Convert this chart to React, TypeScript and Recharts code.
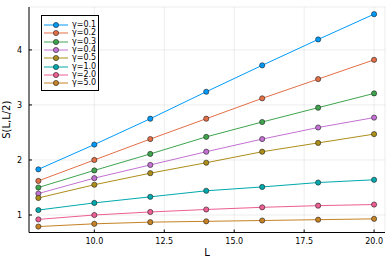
import React from 'react';
import { LineChart, Line, XAxis, YAxis, CartesianGrid } from 'recharts';

const Ls = [8, 10, 12, 14, 16, 18, 20];
const gammaLabels = ['γ=0.1', 'γ=0.2', 'γ=0.3', 'γ=0.4', 'γ=0.5', 'γ=1.0', 'γ=2.0', 'γ=5.0'];
const g01 = [1.83, 2.28, 2.75, 3.24, 3.72, 4.19, 4.65];
const g02 = [1.62, 2.0, 2.38, 2.75, 3.12, 3.47, 3.82];
const g03 = [1.5, 1.81, 2.11, 2.42, 2.69, 2.95, 3.21];
const g04 = [1.39, 1.67, 1.91, 2.15, 2.38, 2.59, 2.77];
const g05 = [1.31, 1.55, 1.76, 1.95, 2.15, 2.31, 2.47];
const g10 = [1.09, 1.22, 1.33, 1.44, 1.51, 1.59, 1.64];
const g20 = [0.92, 1.0, 1.055, 1.1, 1.14, 1.17, 1.19];
const g50 = [0.79, 0.84, 0.87, 0.885, 0.9, 0.915, 0.93];
const seriesValues = [g01, g02, g03, g04, g05, g10, g20, g50];
const colors = ['#009AFA', '#E36F47', '#3EA44E', '#C371D2', '#AC8E18', '#00A9AD', '#ED5E93', '#C68225'];
const xTicks = [10, 12.5, 15, 17.5, 20];
const yTicks = [1, 2, 3, 4];

const keys = seriesValues.map((_, i) => 's' + i);
const data = Ls.map((L, j) => {
  const row: any = { L };
  seriesValues.forEach((s, i) => { row[keys[i]] = s[j]; });
  return row;
});

const FONT = 'DejaVu Sans, sans-serif';

const XTick = (props: any) => {
  const { x, y, payload } = props;
  return (
    <g>
      <line x1={x} x2={x} y1={y} y2={y - 3} stroke="#000" strokeWidth={1} />
      <text x={x} y={y + 11} textAnchor="middle" fontSize={8} fontFamily={FONT} fill="#000">
        {Number(payload.value).toFixed(1)}
      </text>
    </g>
  );
};

const YTick = (props: any) => {
  const { x, y, payload } = props;
  return (
    <g>
      <line x1={x} x2={x + 3} y1={y} y2={y} stroke="#000" strokeWidth={1} />
      <text x={x - 7} y={y + 3} textAnchor="end" fontSize={8} fontFamily={FONT} fill="#000">
        {payload.value}
      </text>
    </g>
  );
};

const LegendBox = () => (
  <div
    style={{
      position: 'absolute',
      left: 41,
      top: 15,
      border: '1px solid #000',
      background: '#fff',
      width: 58,
      height: 76,
      padding: '5px 0 0 0',
      boxSizing: 'border-box',
    }}
  >
    {gammaLabels.map((lab, i) => (
      <div key={lab} style={{ display: 'flex', alignItems: 'center', height: 8.3 }}>
        <svg width={28} height={8} style={{ display: 'block', marginLeft: 2 }}>
          <line x1={0} x2={24} y1={4} y2={4} stroke={colors[i]} strokeWidth={1} />
          <circle cx={12} cy={4} r={2.6} fill={colors[i]} stroke="#222" strokeWidth={0.6} />
        </svg>
        <span style={{ fontSize: 8, fontFamily: FONT, lineHeight: '8px', color: '#000', whiteSpace: 'nowrap' }}>{lab}</span>
      </div>
    ))}
  </div>
);

export default function App() {
  return (
    <div style={{ position: 'absolute', left: 0, top: 0, width: 392, height: 262, background: '#fff' }}>
      <LineChart width={392} height={262} data={data} margin={{ top: 7, right: 7, bottom: 0, left: 0 }}>
        <CartesianGrid stroke="#000" strokeOpacity={0.09} strokeWidth={0.8} />
        <XAxis
          dataKey="L"
          type="number"
          domain={[7.665, 20.39]}
          ticks={xTicks}
          allowDataOverflow
          height={29.5}
          tickSize={0}
          tickMargin={0}
          tickLine={false}
          axisLine={{ stroke: '#000', strokeWidth: 1 }}
          tick={<XTick />}
          label={(p: any) => {
            const vb = p.viewBox;
            return (
              <text x={vb.x + vb.width / 2} y={256} textAnchor="middle" fontSize={10} fontFamily={FONT} fill="#000">
                L
              </text>
            );
          }}
        />
        <YAxis
          type="number"
          domain={[0.682, 4.78]}
          ticks={yTicks}
          allowDataOverflow
          width={29}
          tickSize={0}
          tickMargin={0}
          tickLine={false}
          axisLine={{ stroke: '#000', strokeWidth: 1 }}
          tick={<YTick />}
          label={(p: any) => {
            const vb = p.viewBox;
            const cy = vb.y + vb.height / 2;
            return (
              <text x={10} y={cy} transform={`rotate(-90 10 ${cy})`} textAnchor="middle" fontSize={10} fontFamily={FONT} fill="#000">
                S(L,L/2)
              </text>
            );
          }}
        />
        {keys.map((k, i) => (
          <Line
            key={k}
            dataKey={k}
            name={gammaLabels[i]}
            stroke={colors[i]}
            strokeWidth={1}
            isAnimationActive={false}
            dot={{ r: 2.6, fill: colors[i], stroke: '#222', strokeWidth: 0.6 }}
            activeDot={false}
          />
        ))}
      </LineChart>
      <LegendBox />
    </div>
  );
}
